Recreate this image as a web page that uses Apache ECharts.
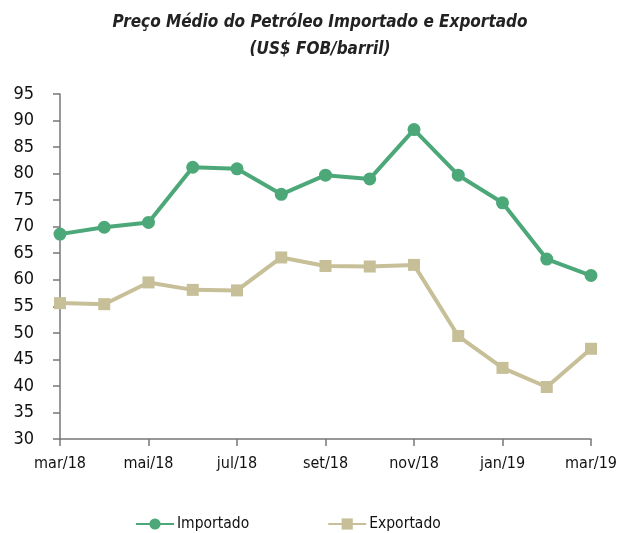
<!DOCTYPE html>
<html><head><meta charset="utf-8">
<script src="https://cdn.jsdelivr.net/npm/echarts@6/dist/echarts.min.js"></script>
<style>html,body{margin:0;padding:0;background:#fff}#c{width:621px;height:533px}</style>
</head><body><div id="c"></div>
<script>
var categories = ['mar/18','abr/18','mai/18','jun/18','jul/18','ago/18','set/18','out/18','nov/18','dez/18','jan/19','fev/19','mar/19'];
var importado = [68.6, 69.9, 70.8, 81.2, 80.9, 76.1, 79.7, 79.0, 88.3, 79.7, 74.5, 63.9, 60.8];
var exportado = [55.6, 55.4, 59.5, 58.1, 58.0, 64.2, 62.6, 62.5, 62.8, 49.4, 43.4, 39.8, 47.0];
var yTicks = [30,35,40,45,50,55,60,65,70,75,80,85,90,95];
var FONT = '"DejaVu Sans Condensed",sans-serif';
var chart = echarts.init(document.getElementById('c'), null, {renderer:'canvas'});
chart.setOption({
  animation:false,
  title:{
    text:'Preço Médio do Petróleo Importado e Exportado\n(US$ FOB/barril)',
    left:315, top:4, textAlign:'center',
    textStyle:{fontFamily:FONT, fontStyle:'italic', fontWeight:'bold', fontSize:17, color:'#222', lineHeight:27}
  },
  legend:{
    bottom:-4, left:130, itemGap:78, itemWidth:38, itemHeight:14,
    textStyle:{fontFamily:FONT, fontSize:15.5, color:'#111', padding:[0,0,0,-2]},
    data:['Importado','Exportado']
  },
  grid:{left:60, right:30, top:94, bottom:94, containLabel:false},
  xAxis:{
    type:'category', data:categories, boundaryGap:false,
    axisLine:{lineStyle:{color:'#777', width:1.5}},
    axisTick:{interval:1, length:7, lineStyle:{color:'#777', width:1.5}},
    axisLabel:{interval:1, margin:17, fontFamily:FONT, fontSize:16, color:'#111'}
  },
  yAxis:{
    type:'value', min:yTicks[0], max:yTicks[yTicks.length-1], interval:5,
    axisLine:{show:true, lineStyle:{color:'#777', width:1.5}},
    axisTick:{show:true, length:7, lineStyle:{color:'#777', width:1.5}},
    axisLabel:{margin:26, fontFamily:FONT, fontSize:18, color:'#111'},
    splitLine:{show:false}
  },
  series:[
    {name:'Importado', type:'line', data:importado, symbol:'circle', symbolSize:13,
     lineStyle:{color:'#4ca878', width:4}, itemStyle:{color:'#4ca878'}},
    {name:'Exportado', type:'line', data:exportado, symbol:'rect', symbolSize:12,
     lineStyle:{color:'#c7bf98', width:4}, itemStyle:{color:'#c7bf98'}}
  ]
});
</script></body></html>
